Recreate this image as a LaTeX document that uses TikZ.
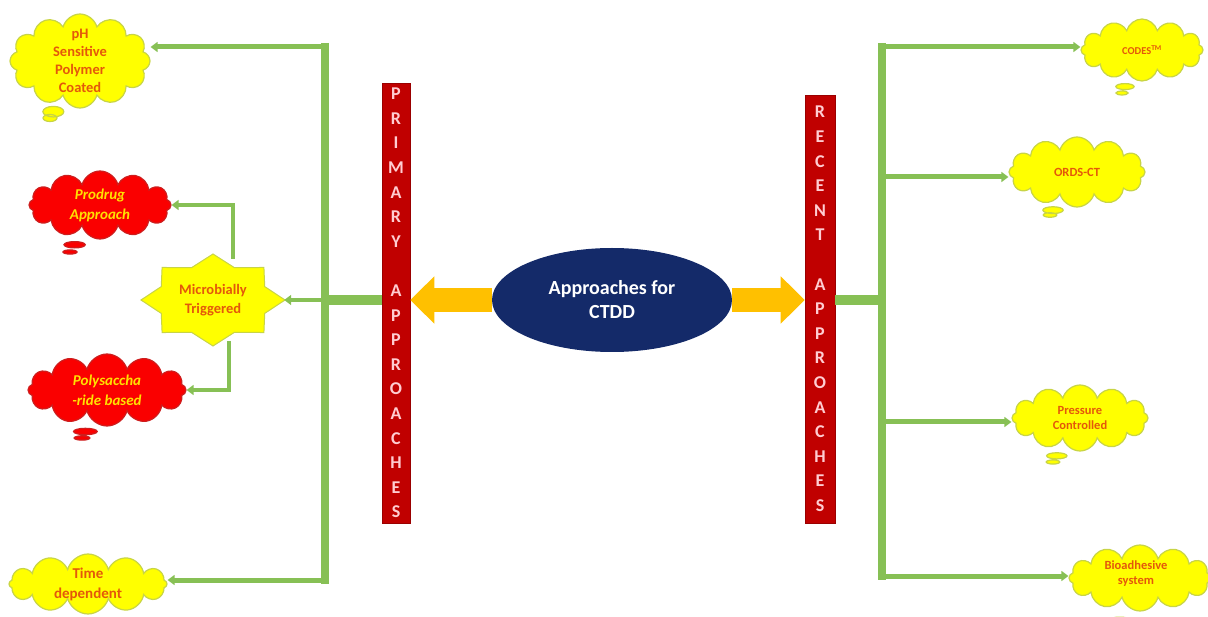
\documentclass[tikz,border=0pt]{standalone}
\usepackage{fontspec}
\setmainfont{Carlito}
\usetikzlibrary{shapes.symbols,shapes.callouts,shapes.geometric,arrows.meta}
\definecolor{lgreen}{RGB}{135,192,85}
\definecolor{dred}{RGB}{192,0,0}
\definecolor{gold}{RGB}{255,192,0}
\definecolor{navy}{RGB}{20,42,105}
\definecolor{otext}{RGB}{228,88,10}
\definecolor{ycloud}{RGB}{255,255,0}
\definecolor{yborder}{RGB}{200,212,70}
\definecolor{rcloud}{RGB}{250,0,0}
\definecolor{rborder}{RGB}{205,30,30}
\definecolor{ytext}{RGB}{255,225,0}
\definecolor{ltext}{RGB}{255,205,210}
\tikzset{
  x=1pt, y=-1pt,
  ycl/.style={cloud callout, cloud puffs=12, cloud ignores aspect, draw=yborder, line width=1.2pt,
    fill=ycloud, inner sep=0pt},
  rcl/.style={cloud callout, cloud puffs=12, cloud ignores aspect, draw=rborder, line width=1.2pt,
    fill=rcloud, inner sep=0pt},
  ytx/.style={text=otext, align=center, inner sep=0pt},
  rtx/.style={text=ytext, align=center, inner sep=0pt},
  bar/.style={rectangle, fill=dred, draw=dred!80!black, line width=0.6pt, text=ltext, inner sep=0pt,
    align=center, font=\fontsize{18}{24.6}\selectfont\bfseries},
  trunk/.style={draw=lgreen, line width=8pt},
  branch/.style={draw=lgreen, line width=5pt, -{Triangle[length=7pt,width=10pt]}},
  link/.style={draw=lgreen, line width=10pt},
  blockarrow/.style={draw=gold, line width=24pt, -{Triangle[length=24pt 0 0,width=46pt 0 0]}},
}
\begin{document}
\begin{tikzpicture}
\useasboundingbox (0,0) rectangle (1208,617);

% centre
\node[ellipse, fill=navy, minimum width=240, minimum height=104, text=white,
  font=\fontsize{20}{25}\selectfont\bfseries, align=center, inner sep=0pt] (ctdd) at (612,300) {Approaches for\\[-1pt]CTDD};

% bars
\node[bar, minimum width=28, minimum height=440] (primary) at (396,303)
  {P\\R\\I\\M\\A\\R\\Y\\~\\A\\P\\P\\R\\O\\A\\C\\H\\E\\S};
\node[bar, minimum width=30, minimum height=428] (recent) at (820,309)
  {R\\E\\C\\E\\N\\T\\~\\A\\P\\P\\R\\O\\A\\C\\H\\E\\S};

% block arrows
\draw[blockarrow] (ctdd.west) -- (primary.east |- ctdd.west);
\draw[blockarrow] (ctdd.east) -- (recent.west |- ctdd.east);

% left side clouds
\node[ycl, minimum width=140, minimum height=94, callout absolute pointer={(50,118)}] (ph) at (80,61) {};
\node[ytx, font=\fontsize{14.5}{18}\selectfont\bfseries] (pht) at (ph.center) {pH\\Sensitive\\Polymer\\Coated};
\node[rcl, minimum width=142, minimum height=68, callout absolute pointer={(70,252)}] (prodrug) at (100,205) {};
\node[rtx, font=\fontsize{15}{20}\selectfont\bfseries\itshape] (prodrugt) at (prodrug.center) {Prodrug\\Approach};
\node[rcl, minimum width=158, minimum height=72, callout absolute pointer={(82,438)}] (poly) at (107,390) {};
\node[rtx, font=\fontsize{15}{20}\selectfont\bfseries\itshape] (polyt) at (poly.center) {Polysaccha\\-ride based};
\node[ycl, minimum width=158, minimum height=60, callout absolute pointer={(60,634)}] (time) at (88,584) {};
\node[ytx, font=\fontsize{15}{20}\selectfont\bfseries] (timet) at (time.center) {Time\\dependent};

% microbially triggered star
\node[minimum width=142, minimum height=90] (mt) at (213,300) {};
\draw[fill=ycloud, draw=yborder, line width=1pt, shift={(213,300)}]
  (0:72pt and 46pt) \foreach \a in {0,45,...,315}{ -- (\a+22.5:56pt and 35pt) -- (\a+45:72pt and 46pt)} -- cycle;
\node[ytx, font=\fontsize{14.5}{19}\selectfont\bfseries] (mtt) at (mt.center) {Microbially\\Triggered};

% right side clouds
\node[ycl, minimum width=122, minimum height=62, callout absolute pointer={(1122,93)}] (codes) at (1142,50) {};
\node[ytx, font=\fontsize{10.5}{12}\selectfont\bfseries] (codest) at (codes.center) {CODES\textsuperscript{TM}};
\node[ycl, minimum width=136, minimum height=70, callout absolute pointer={(1050,215)}] (ords) at (1077,172) {};
\node[ytx, font=\fontsize{12.5}{15}\selectfont\bfseries] (ordst) at (ords.center) {ORDS-CT};
\node[ycl, minimum width=136, minimum height=66, callout absolute pointer={(1053,462)}] (press) at (1080,418) {};
\node[ytx, font=\fontsize{12.5}{15}\selectfont\bfseries] (presst) at (press.center) {Pressure\\Controlled};
\node[ycl, minimum width=142, minimum height=66, callout absolute pointer={(1115,630)}] (bio) at (1140,578) {};
\node[ytx, font=\fontsize{12.5}{15}\selectfont\bfseries, anchor=center] (biot) at ([xshift=-4pt,yshift=4pt]bio.center) {Bioadhesive\\system};

% left green tree
\coordinate (lt1) at (325,43);
\coordinate (lt2) at (325,584);
\coordinate (lb1) at (325,47);
\coordinate (lb4) at (325,580);
\coordinate (lmid) at (325,300);
\draw[trunk] (lt1) -- (lt2);
\draw[link] (primary.west |- lmid) -- ([xshift=-4pt]lmid);
\draw[branch] (lb1) -- (ph.east |- lb1);
\draw[branch] (lb4) -- (time.east |- lb4);
\draw[branch, line width=4pt] (lmid) -- (mt.east);
\coordinate (mtop) at (233,259);
\coordinate (mbot) at (229,341);
\draw[branch, line width=4.5pt] (mtop) |- (prodrug.east);
\draw[branch, line width=4.5pt] (mbot) |- (poly.east);

% right green tree
\coordinate (rt1) at (882,43);
\coordinate (rt2) at (882,580);
\coordinate (rmid) at (882,300);
\draw[trunk] (rt1) -- (rt2);
\draw[link] (recent.east |- rmid) -- ([xshift=4pt]rmid);
\coordinate (rb1) at (882,47);
\coordinate (rb2) at (882,177);
\coordinate (rb3) at (882,422);
\coordinate (rb4) at (882,576);
\draw[branch] (rb1) -- (codes.west |- rb1);
\draw[branch] (rb2) -- (ords.west |- rb2);
\draw[branch] (rb3) -- (press.west |- rb3);
\draw[branch] (rb4) -- (bio.west |- rb4);
\end{tikzpicture}
\end{document}
